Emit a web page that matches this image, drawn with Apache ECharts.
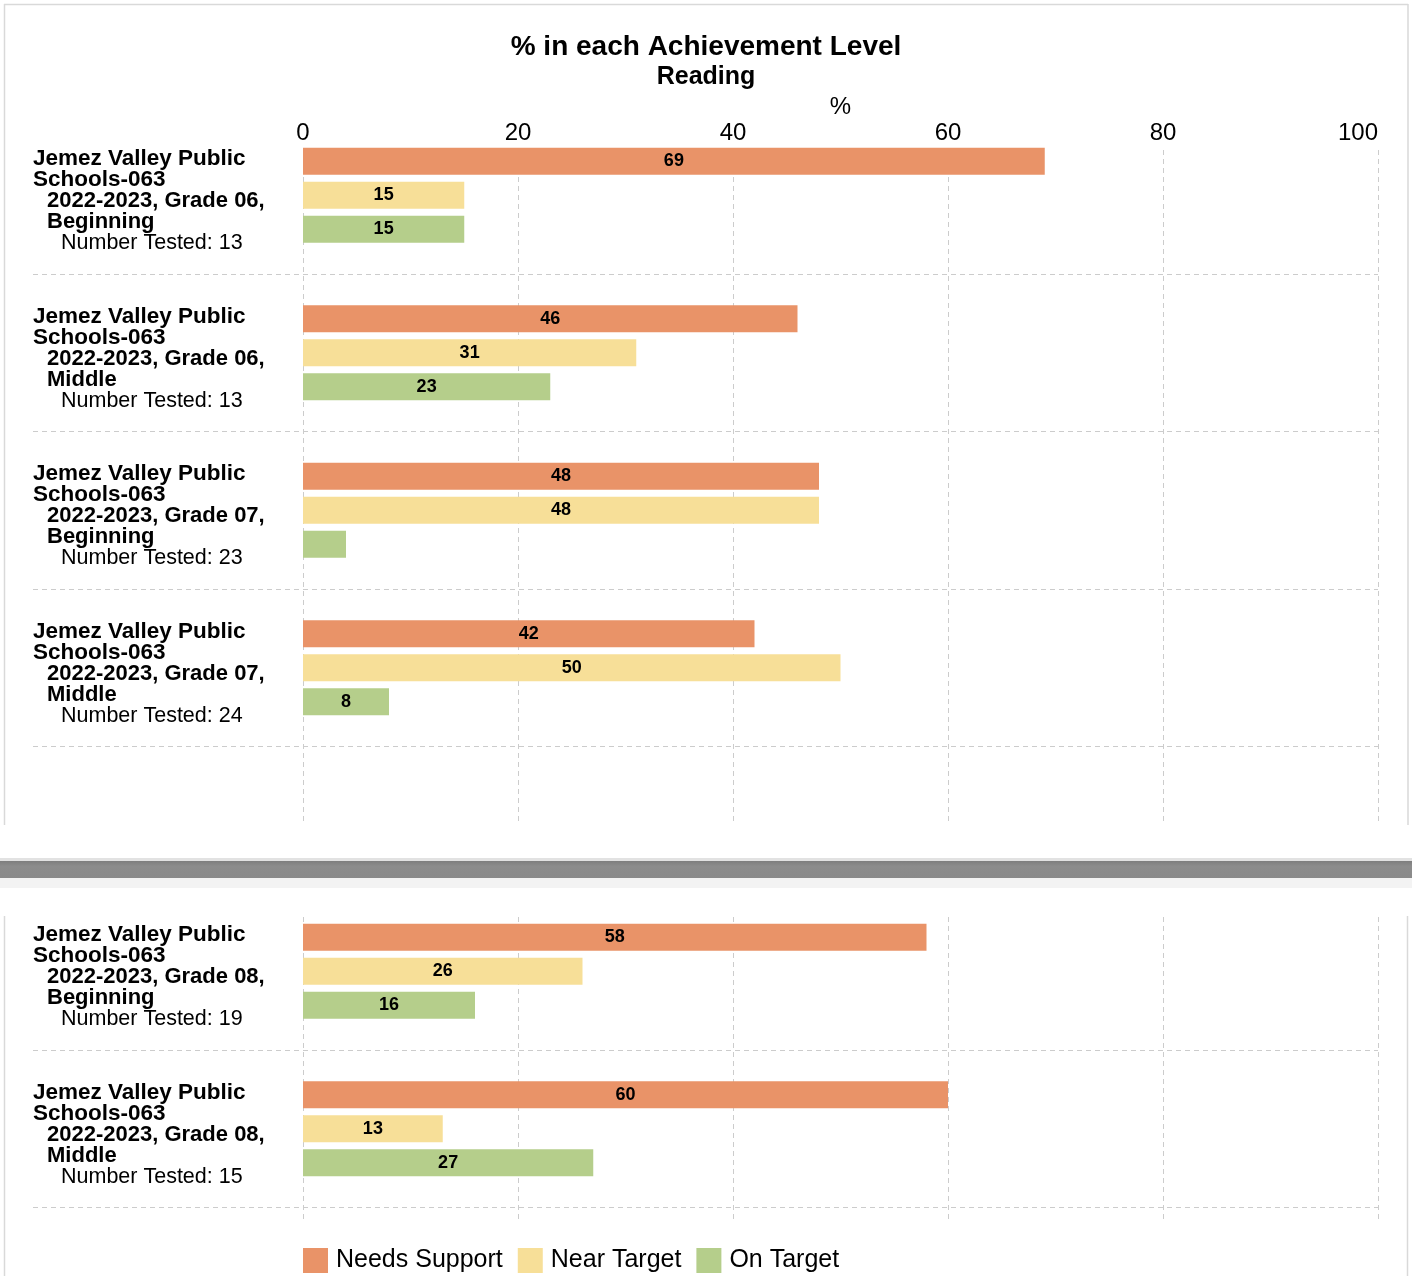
<!DOCTYPE html>
<html>
<head>
<meta charset="utf-8">
<script src="https://cdn.jsdelivr.net/npm/echarts@6/dist/echarts.min.js"></script>
<style>
html,body{margin:0;padding:0;background:#fff;}
#chart{width:1412px;height:1276px;}
</style>
</head>
<body>
<div id="chart"></div>
<script>
// ---- data ----
const schools = ['Jemez Valley Public', 'Jemez Valley Public', 'Jemez Valley Public', 'Jemez Valley Public', 'Jemez Valley Public', 'Jemez Valley Public'];
const districtCodes = ['Schools-063', 'Schools-063', 'Schools-063', 'Schools-063', 'Schools-063', 'Schools-063'];
const yearGrades = ['2022-2023, Grade 06,', '2022-2023, Grade 06,', '2022-2023, Grade 07,', '2022-2023, Grade 07,', '2022-2023, Grade 08,', '2022-2023, Grade 08,'];
const levels = ['Beginning', 'Middle', 'Beginning', 'Middle', 'Beginning', 'Middle'];
const numberTested = [13, 13, 23, 24, 19, 15];
const needsSupport = [69, 46, 48, 42, 58, 60];
const nearTarget = [15, 31, 48, 50, 26, 13];
const onTarget = [15, 23, 4, 8, 16, 27];
const seriesNames = ['Needs Support', 'Near Target', 'On Target'];
const seriesColors = ['#E99368', '#F7DF98', '#B5CE8B'];
const xMin = 0, xMax = 100, xInterval = 20;
const titleText = '% in each Achievement Level';
const subtitleText = 'Reading';
const axisName = '%';

// page split: first 4 groups on top part, last 2 on bottom part
const topIdx = [0, 1, 2, 3];
const botIdx = [4, 5];

const FONT = '"Liberation Sans", Arial, sans-serif';

function labelFor(i) {
  return '{b|' + schools[i] + '}\n{b|' + districtCodes[i] + '}\n{c|' + yearGrades[i] + '}\n{c|' + levels[i] + '}\n{n|Number Tested: ' + numberTested[i] + '}';
}

const richStyles = {
  b: { fontFamily: FONT, fontWeight: 'bold', fontSize: 22.5, lineHeight: 21, color: '#000' },
  c: { fontFamily: FONT, fontWeight: 'bold', fontSize: 22, lineHeight: 21, color: '#000', padding: [0, 0, 0, 14] },
  n: { fontFamily: FONT, fontSize: 21.5, lineHeight: 21, color: '#000', padding: [0, 0, 0, 28] }
};

const gridLineStyle = { color: '#cccccc', type: [5, 4], width: 1 };

const L = 303, R = 1412 - 1378;
const BAND = 157.5;
const TOP0 = 116.5;

const grids = [
  // 0: top bars
  { left: L, right: R, top: TOP0, height: BAND * 4 },
  // 1: top separators (below groups 1..4)
  { left: 33, right: R, top: TOP0 + BAND, height: BAND * 3 },
  // 2: top vertical grid lines & ticks
  { left: L, right: R, top: 150, bottom: 1276 - 825 },
  // 3: bottom bars
  { left: L, right: R, top: 892.5, height: BAND * 2 },
  // 4: bottom separators (below groups 5..6)
  { left: 33, right: R, top: 892.5 + BAND, height: BAND },
  // 5: bottom vertical grid lines
  { left: L, right: R, top: 917, bottom: 1276 - 1222 }
];

function hiddenValueX(gi) {
  return { type: 'value', gridIndex: gi, min: xMin, max: xMax, interval: xInterval, show: false };
}

const xAxes = [
  hiddenValueX(0),
  hiddenValueX(1),
  {
    type: 'value', gridIndex: 2, position: 'top', min: xMin, max: xMax, interval: xInterval,
    name: axisName, nameLocation: 'middle', nameGap: 43, nameMoveOverlap: false,
    nameTextStyle: { fontFamily: FONT, fontSize: 24, color: '#000', verticalAlign: 'middle' },
    axisLine: { show: false }, axisTick: { show: false },
    axisLabel: { fontFamily: FONT, fontSize: 24, color: '#000', margin: 5, alignMaxLabel: 'right' },
    splitLine: { show: true, lineStyle: gridLineStyle }
  },
  hiddenValueX(3),
  hiddenValueX(4),
  {
    type: 'value', gridIndex: 5, min: xMin, max: xMax, interval: xInterval,
    axisLine: { show: false }, axisTick: { show: false }, axisLabel: { show: false },
    splitLine: { show: true, lineStyle: gridLineStyle }
  }
];

function barY(gi, idx) {
  return {
    type: 'category', gridIndex: gi, inverse: true, data: idx.map(String),
    axisLine: { show: false }, axisTick: { show: false }, splitLine: { show: false },
    axisLabel: {
      align: 'left', verticalAlign: 'middle', margin: L - 33, padding: [12, 0, 0, 0],
      formatter: function (v) { return labelFor(+v); }, rich: richStyles
    }
  };
}
function sepY(gi, idx) {
  return {
    type: 'category', gridIndex: gi, inverse: true, data: idx.map(String),
    axisLine: { show: false }, axisTick: { show: false }, axisLabel: { show: false },
    splitLine: { show: true, lineStyle: gridLineStyle }
  };
}
const yAxes = [
  barY(0, topIdx),
  sepY(1, topIdx.slice(1)),
  { type: 'category', gridIndex: 2, data: ['a'], show: false },
  barY(3, botIdx),
  sepY(4, botIdx.slice(1)),
  { type: 'category', gridIndex: 5, data: ['a'], show: false }
];

const allValues = [needsSupport, nearTarget, onTarget];
const series = [];
[[0, topIdx], [3, botIdx]].forEach(function (pair) {
  const gi = pair[0], idx = pair[1];
  allValues.forEach(function (vals, s) {
    series.push({
      type: 'bar', name: seriesNames[s], xAxisIndex: gi, yAxisIndex: gi,
      data: idx.map(function (i) { return vals[i]; }),
      barWidth: 27, barGap: '26%',
      itemStyle: { color: seriesColors[s] },
      label: {
        show: true, position: 'inside', color: '#000', fontFamily: FONT, fontWeight: 'bold', fontSize: 18,
        formatter: function (p) { return p.value < 5 ? '' : String(p.value); }
      },
      silent: true, animation: false
    });
  });
});

const borderColor = '#d9d9d9';
const graphics = [
  { type: 'line', shape: { x1: 4.5, y1: 4, x2: 4.5, y2: 825 }, style: { stroke: borderColor, lineWidth: 1.5 } },
  { type: 'line', shape: { x1: 4, y1: 4.5, x2: 1408, y2: 4.5 }, style: { stroke: borderColor, lineWidth: 1.5 } },
  { type: 'line', shape: { x1: 1408, y1: 4, x2: 1408, y2: 825 }, style: { stroke: borderColor, lineWidth: 1.5 } },
  { type: 'line', shape: { x1: 4.5, y1: 916, x2: 4.5, y2: 1276 }, style: { stroke: borderColor, lineWidth: 1.5 } },
  { type: 'line', shape: { x1: 1407.5, y1: 916, x2: 1407.5, y2: 1276 }, style: { stroke: borderColor, lineWidth: 1.5 } },
  { type: 'rect', shape: { x: 0, y: 858, width: 1412, height: 3 }, style: { fill: '#e2e2e2' } },
  { type: 'rect', shape: { x: 0, y: 861, width: 1412, height: 17 },
    style: { fill: new echarts.graphic.LinearGradient(0, 0, 0, 1, [
      { offset: 0, color: '#7e7e7e' }, { offset: 0.3, color: '#8c8c8c' }, { offset: 1, color: '#8a8a8a' }]) } },
  { type: 'rect', shape: { x: 0, y: 878, width: 1412, height: 10 }, style: { fill: '#f3f3f3' } }
];

const option = {
  animation: false,
  backgroundColor: '#ffffff',
  title: [
    { text: titleText, left: 'center', top: 28, textStyle: { fontFamily: FONT, fontSize: 28, fontWeight: 'bold', color: '#000' } },
    { text: subtitleText, left: 'center', top: 60, textStyle: { fontFamily: FONT, fontSize: 25, fontWeight: 'bold', color: '#000' } }
  ],
  legend: {
    data: seriesNames, left: 303, top: 1248, padding: 0, icon: 'rect', itemWidth: 25, itemHeight: 25, itemGap: 15,
    textStyle: { fontFamily: FONT, fontSize: 25, color: '#000', padding: [0, 0, 0, 3] },
    selectedMode: false
  },
  grid: grids,
  xAxis: xAxes,
  yAxis: yAxes,
  series: series,
  graphic: graphics
};

const chart = echarts.init(document.getElementById('chart'), null, { renderer: 'canvas' });
chart.setOption(option);
</script>
</body>
</html>
